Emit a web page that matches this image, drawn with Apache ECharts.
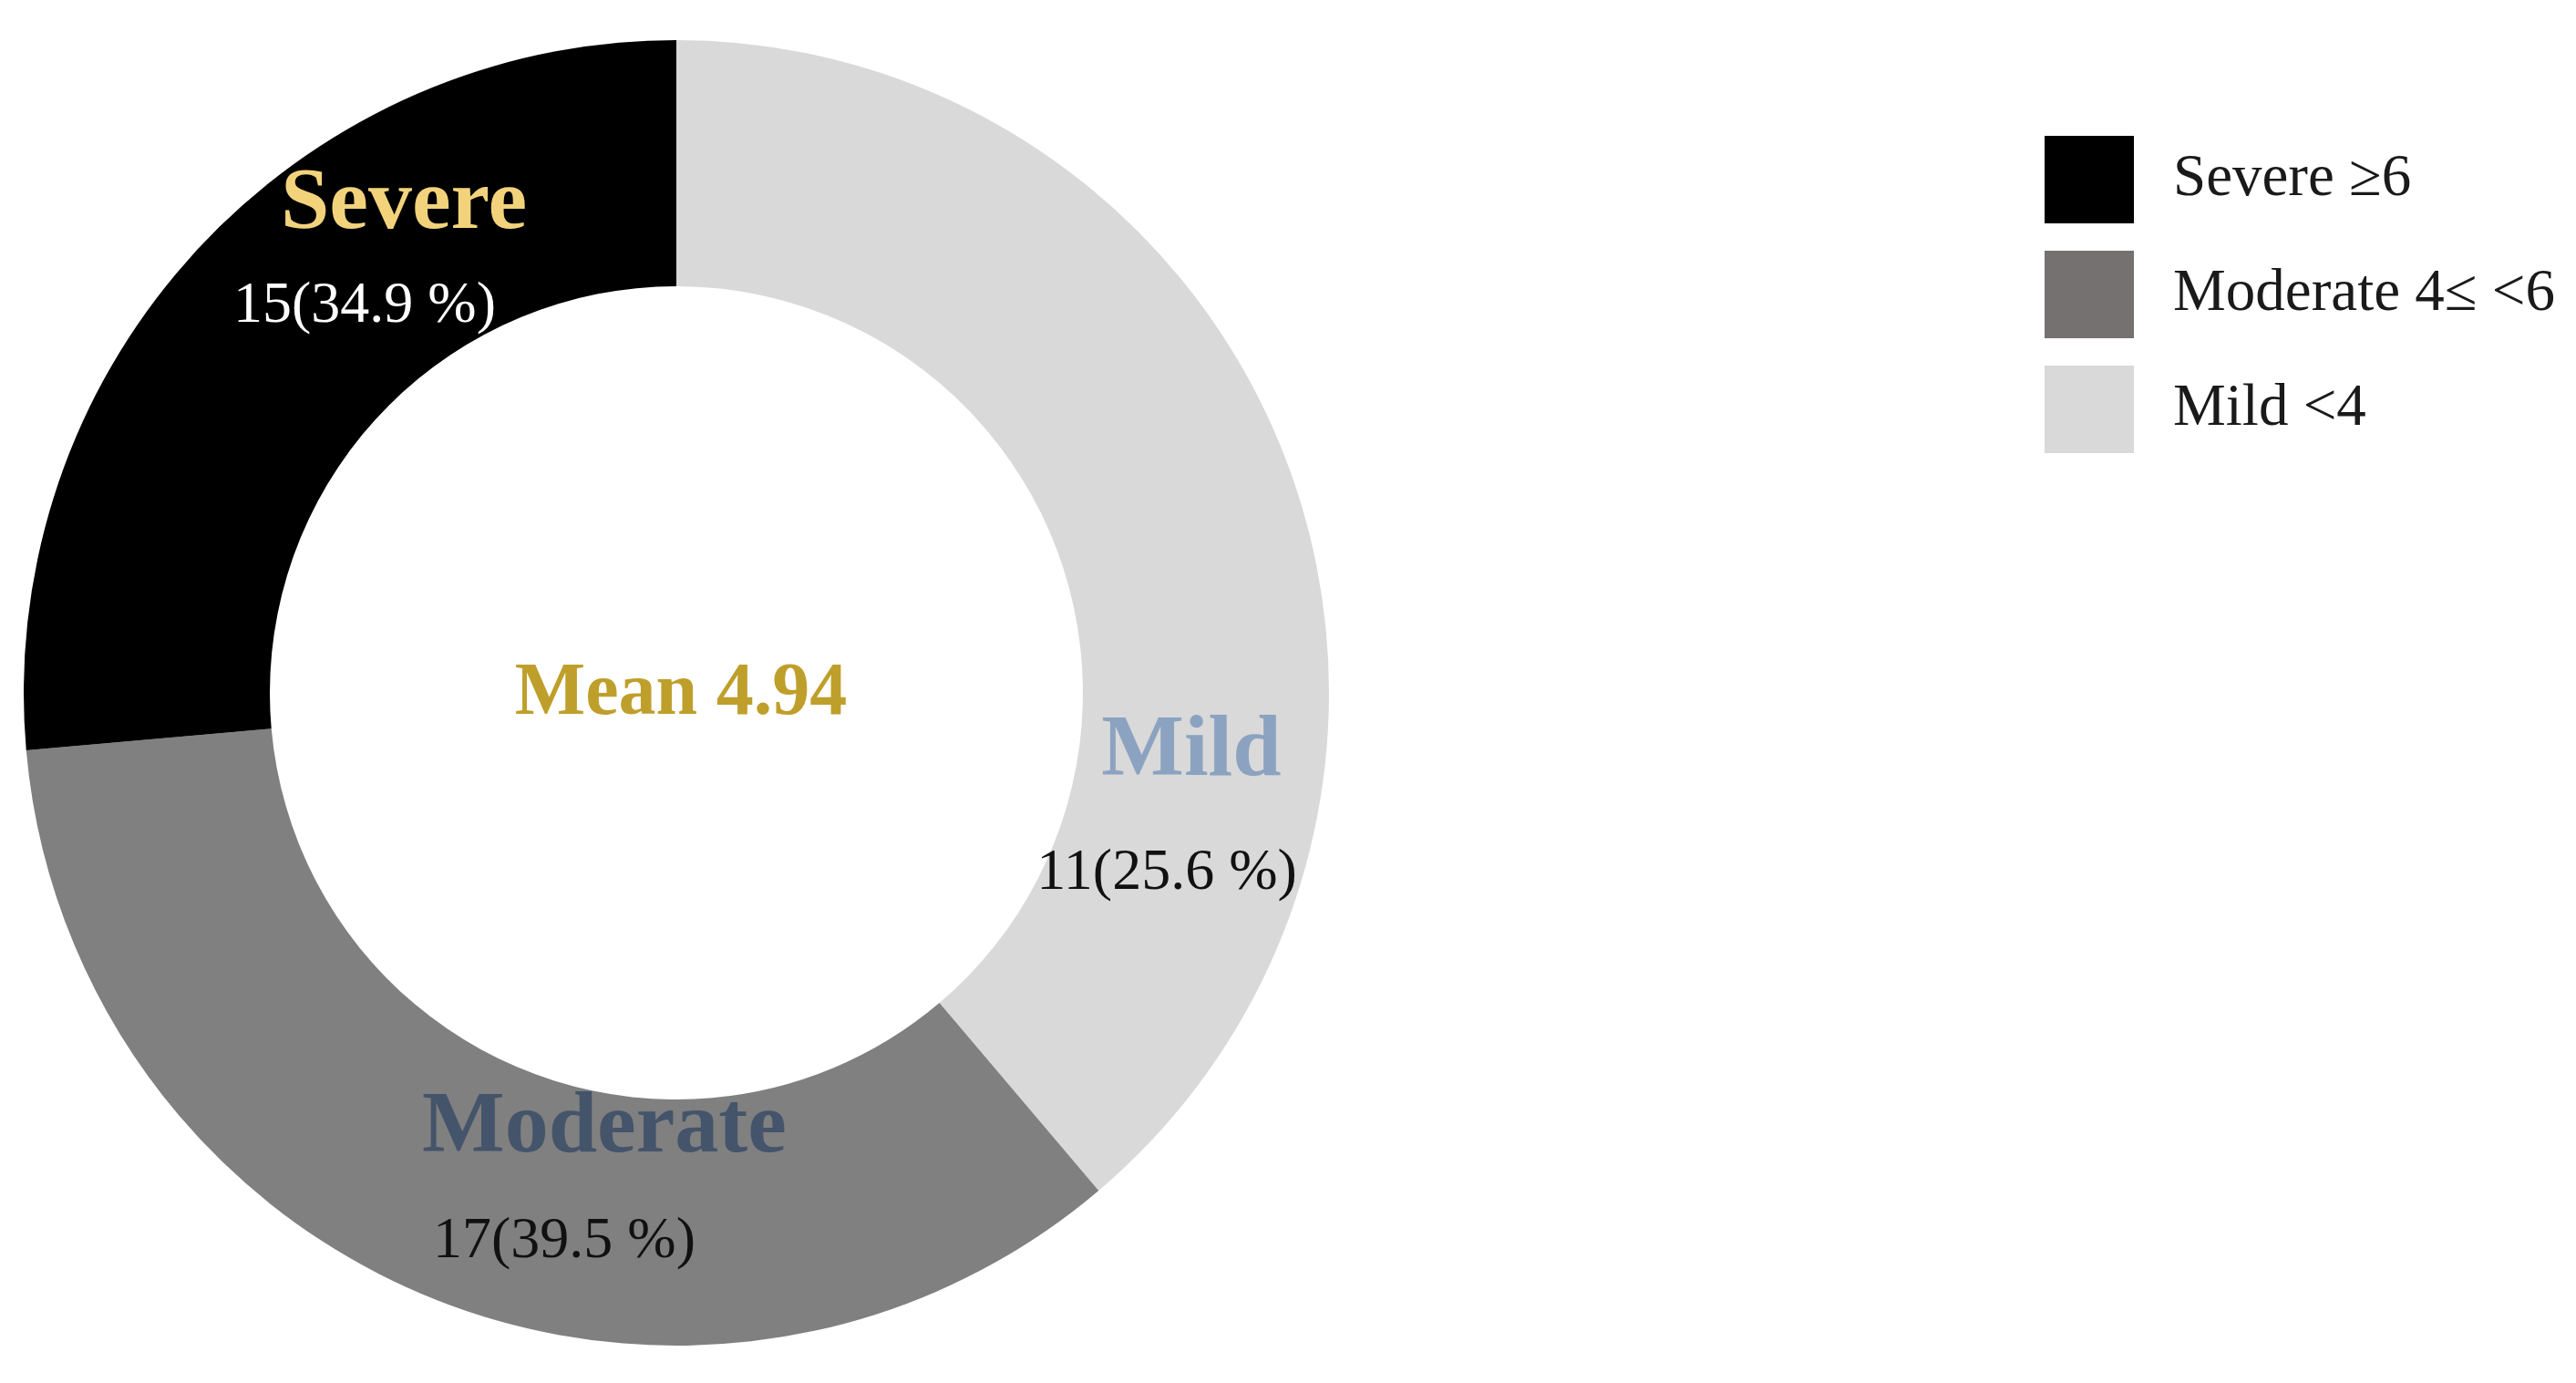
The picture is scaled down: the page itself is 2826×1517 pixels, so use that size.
<!DOCTYPE html>
<html>
<head>
<meta charset="utf-8">
<title>Severity donut</title>
<script src="https://cdn.jsdelivr.net/npm/echarts@6/dist/echarts.min.js"></script>
<style>
  html, body { margin: 0; padding: 0; background: #fff; }
  #chart { width: 2826px; height: 1517px; }
</style>
</head>
<body>
<div id="chart"></div>
<script>
// slices, clockwise from 12 o'clock
const categories = ["Mild", "Moderate", "Severe"];
// share of the ring each slice takes in the picture (%)
const sliceShares = [38.8, 34.8, 26.4];
// counts and percentages as printed on the ring
const labelCounts = [11, 17, 15];
const labelPercents = ["25.6", "39.5", "34.9"];
const sliceColors = ["#d9d9d9", "#808080", "#000000"];

// legend (top to bottom)
const legendNames = ["Severe ≥6", "Moderate 4≤ <6", "Mild <4"];
const legendColors = ["#000000", "#767171", "#d9d9d9"];
const meanText = "Mean 4.94";

const serif = "'Liberation Serif', 'Times New Roman', serif";
const chart = echarts.init(document.getElementById("chart"));

// legend entries point at the slices by index (Severe, Moderate, Mild)
const legendIdx = [2, 1, 0];

// text on top of the ring
const ringText = (x, y, text, font, fill) => ({
  type: "text", x, y, z: 100,
  style: { text, font: font + " " + serif, fill, align: "center", verticalAlign: "middle" },
});

chart.setOption({
  backgroundColor: "#fff",
  animation: false,
  legend: {
    orient: "vertical",
    left: 2238,
    top: 144,
    itemWidth: 98,
    itemHeight: 96,
    itemGap: 30,
    icon: "rect",
    textStyle: {
      fontFamily: serif,
      fontSize: 65,
      color: "#1a1a1a",
      padding: [0, 0, 0, 38],
    },
    formatter: (name) => legendNames[legendIdx.indexOf(categories.indexOf(name))],
    data: legendIdx.map((i, k) => ({
      name: categories[i],
      itemStyle: { color: legendColors[k] },
    })),
  },
  series: [
    {
      type: "pie",
      center: [742, 760],
      radius: [446, 716],
      startAngle: 90,
      clockwise: true,
      label: { show: false },
      labelLine: { show: false },
      emphasis: { disabled: true },
      itemStyle: { borderWidth: 0 },
      data: categories.map((c, i) => ({
        name: c,
        value: sliceShares[i],
        itemStyle: { color: sliceColors[i] },
      })),
    },
  ],
  graphic: [
    ringText(443, 225, categories[2], "bold 96px", "#f2d37c"),
    ringText(1307, 825, categories[0], "bold 96px", "#8ba3c0"),
    ringText(663, 1238, categories[1], "bold 96px", "#44546a"),
    ringText(400, 336, `${labelCounts[2]}(${labelPercents[2]} %)`, "64px", "#ffffff"),
    ringText(1280, 958, `${labelCounts[0]}(${labelPercents[0]} %)`, "64px", "#111111"),
    ringText(619, 1362, `${labelCounts[1]}(${labelPercents[1]} %)`, "64px", "#111111"),
    ringText(747, 762, meanText, "bold 82px", "#bf9f2b"),
  ],
});
</script>
</body>
</html>
